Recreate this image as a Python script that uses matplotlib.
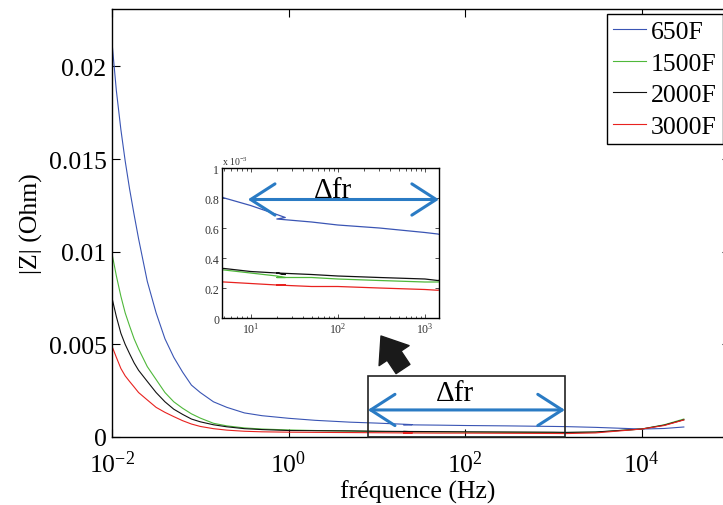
import math
import matplotlib
matplotlib.use('Agg')
import matplotlib.pyplot as plt
from matplotlib.patches import Rectangle
from matplotlib.ticker import FixedLocator, FuncFormatter, NullLocator, LogLocator

plt.rcParams['font.family'] = ['Liberation Serif', 'DejaVu Serif']
plt.rcParams['mathtext.fontset'] = 'custom'
plt.rcParams['mathtext.rm'] = 'Liberation Serif'
plt.rcParams['mathtext.it'] = 'Liberation Serif:italic'

# frequency points (Hz); the 25 -> 20 step is the overlap between two sweeps
freq = [0.01, 0.0112, 0.0126, 0.0141, 0.0158, 0.0178, 0.02, 0.0251, 0.0316, 0.0398,
        0.0501, 0.0631, 0.0794, 0.1, 0.141, 0.2, 0.316, 0.5, 1,
        2, 5, 10, 20, 25, 20, 50, 100, 300, 1000, 1400, 3000, 10000, 18000, 30000]

z_650 = [0.0213, 0.0187, 0.0166, 0.0149, 0.0134, 0.0120, 0.0107, 0.0084, 0.0067, 0.0053,
         0.0043, 0.0035, 0.0028, 0.0024, 0.0019, 0.0016, 0.0013, 0.00115, 0.00101,
         0.00090, 0.00080, 0.00075, 0.00069, 0.00067, 0.00066, 0.00064, 0.00062, 0.00060,
         0.00057, 0.00056, 0.00052, 0.00043, 0.00046, 0.00054]
z_1500 = [0.0099, 0.0087, 0.0076, 0.0067, 0.0060, 0.0053, 0.00475, 0.0038, 0.0031, 0.0024,
          0.0019, 0.00155, 0.00125, 0.00102, 0.00074, 0.0006, 0.00049, 0.00043, 0.00038,
          0.00035, 0.00032, 0.00030, 0.00028, 0.00027, 0.00027, 0.00027, 0.00026, 0.00025,
          0.00024, 0.00024, 0.00026, 0.00043, 0.00066, 0.00097]
z_2000 = [0.0075, 0.0065, 0.0056, 0.0050, 0.0045, 0.0040, 0.0036, 0.0030, 0.0024, 0.0019,
          0.0015, 0.00122, 0.00097, 0.00082, 0.00066, 0.00055, 0.00045, 0.0004, 0.00035,
          0.00034, 0.00033, 0.00031, 0.00030, 0.00029, 0.00030, 0.00029, 0.00028, 0.00027,
          0.00026, 0.00025, 0.00027, 0.00043, 0.00064, 0.00093]
z_3000 = [0.0049, 0.0043, 0.0037, 0.0033, 0.0030, 0.0027, 0.0024, 0.0020, 0.0016, 0.00133,
          0.0011, 0.00088, 0.0007, 0.00057, 0.00045, 0.00037, 0.00031, 0.00028, 0.00026,
          0.00025, 0.00024, 0.00023, 0.00022, 0.00022, 0.00022, 0.00021, 0.00021, 0.00020,
          0.00019, 0.000185, 0.00022, 0.00043, 0.00062, 0.00092]

labels = ['650F', '1500F', '2000F', '3000F']
colors = ['#3a55b4', '#4fb83a', '#111111', '#e8221f']
series = [z_650, z_1500, z_2000, z_3000]

band = (7.9, 1350)  # zoomed frequency band (Hz)
arrow_blue = '#2a7bc4'


def pow10(v, p):
    return '$10^{%d}$' % round(math.log10(v))


fig = plt.figure(figsize=(7.23, 5.06), dpi=100)
ax = fig.add_axes([112/723, 68/506, 618/723, 428/506])

for z, c, lab in zip(series, colors, labels):
    ax.plot(freq, z, color=c, lw=0.8, label=lab)

ax.set_xscale('log')
ax.set_xlim(1e-2, 1e5)
ax.set_ylim(0, 0.0231)
ax.xaxis.set_major_locator(FixedLocator([1e-2, 1e0, 1e2, 1e4]))
ax.xaxis.set_minor_locator(NullLocator())
ax.xaxis.set_major_formatter(FuncFormatter(pow10))
ax.yaxis.set_major_locator(FixedLocator([0, 0.005, 0.01, 0.015, 0.02]))
ax.yaxis.set_major_formatter(FuncFormatter(lambda v, p: '%g' % v))
ax.tick_params(which='both', direction='in', top=True, right=True, labelsize=18.5,
               length=6, width=0.8, pad=4)
ax.tick_params(axis='x', pad=10)
for s in ax.spines.values():
    s.set_linewidth(1.0)

ax.set_ylabel('|Z| (Ohm)', fontsize=18.5)
ax.yaxis.set_label_coords(-0.112, 0.5)
ax.set_xlabel('fréquence (Hz)', fontsize=18.5)
ax.xaxis.set_label_coords(0.494, -0.099)

leg = ax.legend(loc='upper left', bbox_to_anchor=(607/723, 1 - 15/506),
                bbox_transform=fig.transFigure, fontsize=18.5, frameon=True,
                fancybox=False, edgecolor='black', framealpha=1,
                handlelength=1.25, handletextpad=0.2, labelspacing=0.33,
                borderpad=0.25, borderaxespad=0)
leg.get_frame().set_linewidth(1.0)

# zoom box and band arrow on the main plot
ax.add_patch(Rectangle((band[0], 0), band[1] - band[0], 0.0033, fill=False,
                       edgecolor='#222222', lw=1.2, clip_on=False, zorder=5))
ax.annotate('', xy=(band[1], 0.00146), xytext=(band[0], 0.00146),
            arrowprops=dict(arrowstyle='<->,head_length=0.7,head_width=0.45',
                            mutation_scale=25, lw=2.2, color=arrow_blue,
                            shrinkA=0, shrinkB=0))
ax.text(77, 0.00235, '\u0394fr', fontsize=21, ha='center', va='center')

# thick black arrow pointing to the inset
fig.add_artist(plt.Annotation('', xy=(381, 169), xytext=(403, 136),
                              xycoords='figure pixels', textcoords='figure pixels',
                              arrowprops=dict(arrowstyle='simple,head_length=0.85,head_width=1.3,tail_width=0.6',
                                              mutation_scale=20, color='#1a1a1a',
                                              shrinkA=0, shrinkB=0)))

# inset
axi = fig.add_axes([222/723, 187/506, 217/723, 150/506])
for z, c in zip(series, colors):
    axi.plot(freq, z, color=c, lw=0.9)
axi.set_xscale('log')
axi.set_xlim(4.7, 1450)
axi.set_ylim(0, 0.001)
axi.xaxis.set_major_locator(FixedLocator([10, 100, 1000]))
axi.xaxis.set_minor_locator(LogLocator(base=10, subs=range(2, 10)))
axi.xaxis.set_major_formatter(FuncFormatter(pow10))
axi.yaxis.set_major_locator(FixedLocator([0, 0.0002, 0.0004, 0.0006, 0.0008, 0.001]))
axi.yaxis.set_major_formatter(FuncFormatter(lambda v, p: '%g' % round(v * 1e3, 3)))
axi.tick_params(which='both', direction='in', top=True, right=True, labelsize=8.5,
                colors='#333333', length=3, width=0.6, pad=2)
axi.tick_params(which='minor', length=1.8)
for s in axi.spines.values():
    s.set_linewidth(1.0)
axi.text(0.0, 1.01, 'x 10$^{-3}$', transform=axi.transAxes, fontsize=7, color='#333333',
         ha='left', va='bottom')
axi.annotate('', xy=(1450, 0.00079), xytext=(9.3, 0.00079),
             arrowprops=dict(arrowstyle='<->,head_length=0.7,head_width=0.45',
                             mutation_scale=25, lw=2.2, color=arrow_blue,
                             shrinkA=0, shrinkB=0), annotation_clip=False)
axi.text(87, 0.00085, '\u0394fr', fontsize=21, ha='center', va='center')

fig.savefig('out.png', dpi=100)
